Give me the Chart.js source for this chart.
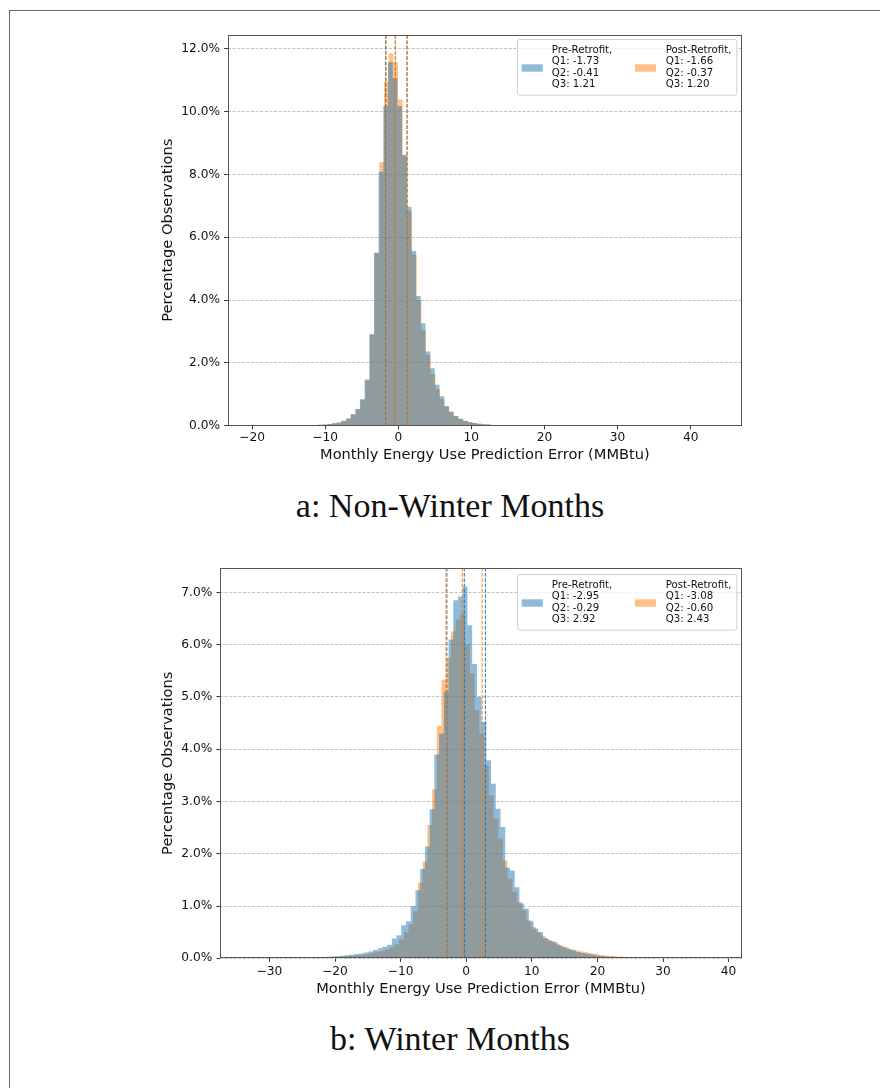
<!DOCTYPE html>
<html><head><meta charset="utf-8">
<script src="https://cdn.jsdelivr.net/npm/chart.js@4.4.1/dist/chart.umd.min.js"></script>
<style>
html,body{margin:0;padding:0;background:#fff;}
body{width:880px;height:1088px;position:relative;overflow:hidden;}
#frame{position:absolute;left:9px;top:10px;width:900px;height:1200px;border:1px solid #666;box-sizing:border-box;}
.cv{position:absolute;left:0;}
.cap{position:absolute;left:0;width:900px;text-align:center;font-family:"Liberation Serif",serif;font-size:34px;line-height:34px;color:#111;white-space:nowrap;}
</style></head><body>
<div id="frame"></div>
<canvas id="c1" class="cv" width="880" height="480" style="top:0px"></canvas>
<div class="cap" style="top:488.5px">a: Non-Winter Months</div>
<canvas id="c2" class="cv" width="880" height="480" style="top:530px"></canvas>
<div class="cap" style="top:1021.5px">b: Winter Months</div>
<script>
// ---------- data ----------
const SERIES_NAMES = ['Pre-Retrofit,', 'Post-Retrofit,'];
const X_TITLE = 'Monthly Energy Use Prediction Error (MMBtu)';
const Y_TITLE = 'Percentage Observations';

// (a) Non-Winter Months
const A_X_TICKS = [-20, -10, 0, 10, 20, 30, 40];
const A_Y_TICKS = [0, 2, 4, 6, 8, 10, 12];
const A_BIN_WIDTH = 0.64;
const A_PRE_START = -14.2;
const A_POST_START = -14.12;
const A_PRE = [0.01,0.012,0.015,0.02,0.025,0.03,0.04,0.055,0.075,0.10,0.16,0.23,0.37,0.53,0.84,1.45,2.91,5.51,8.09,10.18,
  11.57,11.06,10.18,8.62,6.97,5.56,4.13,3.26,2.36,1.83,1.30,0.94,0.63,0.45,0.31,0.22,0.16,0.12,0.085,0.06,
  0.045,0.035,0.025,0.02,0.015,0.012,0.01,0.008,0.006,0.005,0.004,0.003];
const A_POST = [0.01,0.012,0.015,0.02,0.025,0.03,0.04,0.055,0.075,0.10,0.15,0.22,0.35,0.52,0.83,1.48,2.90,5.50,8.39,10.96,
  11.86,11.57,10.39,8.60,6.85,5.45,4.00,3.05,2.25,1.65,1.17,0.84,0.60,0.43,0.30,0.21,0.15,0.11,0.08,0.06,
  0.045,0.035,0.025,0.02,0.015,0.012,0.01,0.008,0.006,0.005,0.004,0.003];
const A_PRE_Q = [-1.73, -0.41, 1.21];
const A_POST_Q = [-1.66, -0.37, 1.20];

// (b) Winter Months
const B_X_TICKS = [-30, -20, -10, 0, 10, 20, 30, 40];
const B_Y_TICKS = [0, 1, 2, 3, 4, 5, 6, 7];
const B_BIN_WIDTH = 0.72;
const B_PRE_START = -25.01;
const B_POST_START = -25.36;
const B_PRE = [0.01,0.012,0.015,0.02,0.025,0.03,0.035,0.04,0.05,0.06,0.07,0.08,0.09,0.11,0.13,0.16,0.19,0.22,0.26,0.38,
  0.44,0.63,0.71,1.00,1.30,1.71,2.14,2.85,3.90,4.30,5.10,6.10,6.85,6.92,
  7.11,6.37,5.63,5.00,4.52,3.79,3.34,2.86,2.51,1.73,1.68,1.36,1.05,0.95,0.71,0.57,0.50,0.39,0.34,0.31,
  0.25,0.21,0.18,0.15,0.12,0.10,0.085,0.07,0.055,0.045,0.035,0.028,0.022,0.017,0.013,0.01,0.007,0.005];
const B_POST = [0.008,0.01,0.012,0.015,0.018,0.02,0.025,0.03,0.035,0.04,0.045,0.05,0.06,0.07,0.08,0.10,0.12,0.14,0.17,0.21,
  0.27,0.36,0.50,0.65,0.90,1.45,1.85,2.55,3.23,4.45,5.33,5.75,6.25,6.48,
  6.58,6.00,5.45,4.75,4.30,3.69,3.12,2.67,2.29,1.87,1.52,1.27,1.08,0.92,0.73,0.60,0.50,0.43,0.37,0.32,
  0.28,0.24,0.21,0.18,0.155,0.135,0.115,0.10,0.085,0.07,0.06,0.05,0.042,0.035,0.03,0.025,0.02,0.017,0.013,0.01,0.007,0.005];
const B_PRE_Q = [-2.95, -0.29, 2.92];
const B_POST_Q = [-3.08, -0.60, 2.43];

// ---------- helpers ----------
const BLUE = '#1f77b4', ORANGE = '#ff7f0e';
const BLUE_FILL = 'rgba(31,119,180,0.5)', ORANGE_FILL = 'rgba(255,127,14,0.5)';

function histPoints(start, width, vals) {
  const pts = [];
  vals.forEach((h, i) => {
    pts.push({x: start + i * width, y: h});
    pts.push({x: start + (i + 1) * width, y: h});
  });
  return pts;
}
function qLine(q, ymax, color, order) {
  return {type: 'line', data: [{x: q, y: 0}, {x: q, y: ymax}], borderColor: color, borderWidth: 1,
    borderDash: [3.7, 1.6], pointRadius: 0, fill: false, order: order};
}
function legendLines(name, q) {
  return [name, 'Q1: ' + q[0].toFixed(2), 'Q2: ' + q[1].toFixed(2), 'Q3: ' + q[2].toFixed(2)];
}
const fmtX = v => (v < 0 ? '\u2212' : '') + Math.abs(v);

const frameLegend = {
  id: 'frameLegend',
  afterDatasetsDraw(chart) {
    const {ctx, chartArea: a} = chart;
    ctx.save();
    ctx.strokeStyle = '#555'; ctx.lineWidth = 1;
    const l = Math.round(a.left) + 0.5, t = Math.round(a.top) + 0.5;
    const r = Math.round(a.right) - 0.5, b = Math.round(a.bottom) - 0.5;
    ctx.strokeRect(l, t, r - l, b - t);
    ctx.restore();
  },
  afterDraw(chart, args, opts) {
    const {ctx, chartArea: a} = chart;
    const bx = a.right - 224.7, by = a.top + opts.top, bw = 219.4, bh = 55.7;
    ctx.save();
    ctx.beginPath();
    ctx.roundRect(Math.round(bx) + 0.5, Math.round(by) + 0.5, bw, bh, 2.5);
    ctx.fillStyle = 'rgba(255,255,255,0.8)'; ctx.fill();
    ctx.strokeStyle = '#d0d0d0'; ctx.lineWidth = 1; ctx.stroke();
    ctx.font = '10.2px "DejaVu Sans"';
    ctx.textBaseline = 'middle'; ctx.textAlign = 'left';
    opts.items.forEach((it, j) => {
      const px = bx + (j ? 117.7 : 4.4), tx = bx + (j ? 148.4 : 34.4);
      ctx.fillStyle = it.color;
      ctx.fillRect(px, by + 25, 21, 7.4);
      ctx.fillStyle = '#111';
      it.lines.forEach((s, i) => ctx.fillText(s, tx, by + 11 + i * 11.33));
    });
    ctx.restore();
  }
};

function makeChart(id, o) {
  // draw order: orange histogram (bottom), blue histogram, blue quartile lines, orange quartile lines (top)
  const datasets = [
    {type: 'line', data: histPoints(o.postStart, o.width, o.post), backgroundColor: ORANGE_FILL,
      borderWidth: 0, borderColor: 'rgba(0,0,0,0)', pointRadius: 0, fill: 'origin', order: 4},
    {type: 'line', data: histPoints(o.preStart, o.width, o.pre), backgroundColor: BLUE_FILL,
      borderWidth: 0, borderColor: 'rgba(0,0,0,0)', pointRadius: 0, fill: 'origin', order: 3},
    ...o.preQ.map(q => qLine(q, o.ymax, BLUE, 2)),
    ...o.postQ.map(q => qLine(q, o.ymax, ORANGE, 1))
  ];
  const tickFont = {family: 'DejaVu Sans', size: 12.2};
  const titleFont = {family: 'DejaVu Sans', size: 14.6};
  return new Chart(document.getElementById(id), {
    type: 'line',
    data: {datasets},
    options: {
      responsive: false, animation: false, devicePixelRatio: 1, events: [],
      layout: {padding: o.pad},
      elements: {line: {tension: 0}},
      plugins: {
        legend: {display: false}, tooltip: {enabled: false},
        frameLegend: {top: o.legTop, items: [
          {color: BLUE_FILL, lines: legendLines(SERIES_NAMES[0], o.preQ)},
          {color: ORANGE_FILL, lines: legendLines(SERIES_NAMES[1], o.postQ)}
        ]}
      },
      scales: {
        x: {
          type: 'linear', min: o.xmin, max: o.xmax,
          afterFit: s => { s.height = o.xh; },
          afterBuildTicks: s => { s.ticks = o.xticks.map(v => ({value: v})); },
          grid: {drawOnChartArea: false, drawTicks: true, tickLength: 3.5, tickColor: '#333', tickWidth: 1},
          border: {display: false},
          ticks: {padding: o.xpad, color: '#111', font: tickFont, maxRotation: 0, autoSkip: false, callback: v => fmtX(v)},
          title: {display: true, text: X_TITLE, color: '#111', font: titleFont, padding: {top: 0, bottom: o.xtp}}
        },
        y: {
          type: 'linear', min: 0, max: o.ymax,
          afterFit: s => { s.width = o.yw; },
          afterBuildTicks: s => { s.ticks = o.yticks.map(v => ({value: v})); },
          grid: {color: 'rgba(170,170,170,0.9)', lineWidth: 0.8, drawTicks: true, tickLength: 3.5,
            tickColor: '#333', tickWidth: 1, tickBorderDash: []},
          border: {display: false, dash: [3, 1.6]},
          ticks: {padding: 4.2, color: '#111', font: tickFont, autoSkip: false, callback: v => v.toFixed(1) + '%'},
          title: {display: true, text: Y_TITLE, color: '#111', font: titleFont, padding: {top: 9.5, bottom: 0}}
        }
      }
    },
    plugins: [frameLegend]
  });
}

makeChart('c1', {
  pre: A_PRE, post: A_POST, preStart: A_PRE_START, postStart: A_POST_START, width: A_BIN_WIDTH,
  preQ: A_PRE_Q, postQ: A_POST_Q, xticks: A_X_TICKS, yticks: A_Y_TICKS,
  xmin: -23.33, xmax: 47.02, ymax: 12.45,
  pad: {left: 150, right: 138, top: 34.7, bottom: 0}, yw: 77.7, xh: 54.3, xpad: 1.5, xtp: 16.2, legTop: 4.6
});
makeChart('c2', {
  pre: B_PRE, post: B_POST, preStart: B_PRE_START, postStart: B_POST_START, width: B_BIN_WIDTH,
  preQ: B_PRE_Q, postQ: B_POST_Q, xticks: B_X_TICKS, yticks: B_Y_TICKS,
  xmin: -37.53, xmax: 42.04, ymax: 7.46,
  pad: {left: 150, right: 138, top: 38.3, bottom: 0}, yw: 70, xh: 51.7, xpad: 2.6, xtp: 11.9, legTop: 6
});
</script>
</body></html>
